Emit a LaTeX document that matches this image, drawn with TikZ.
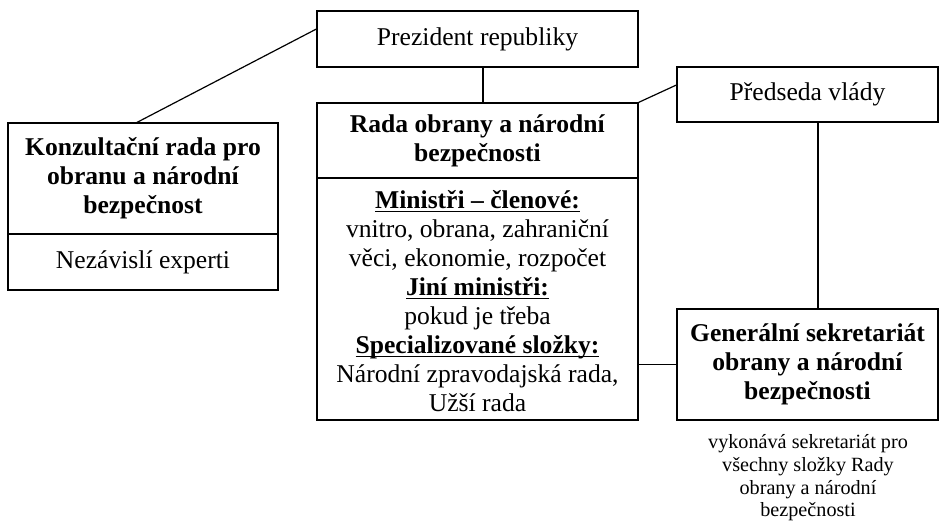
\documentclass[tikz,border=0pt]{standalone}
\usepackage{fontspec}
\setmainfont{Liberation Serif}
\newcommand\thul[1]{\setbox0\hbox{#1}\rlap{\rule[-3.2pt]{\wd0}{1.6pt}}\box0}
\usetikzlibrary{calc}
\begin{document}
\begin{tikzpicture}[x=1pt,y=-1pt,
  box/.style={draw=black,line width=1.2pt,rectangle,inner sep=0pt,align=center,
    font=\fontsize{25.6}{29}\selectfont},
  boxtext/.style={inner sep=0pt,align=center,font=\fontsize{25.6}{29}\selectfont},
  conn/.style={draw=black,line width=1.2pt},
  captext/.style={align=center,inner sep=0pt,font=\fontsize{20.2}{22.7}\selectfont}]
\useasboundingbox[fill=white] (0,0) rectangle (939,520);

\node[box,minimum width=321pt,minimum height=56pt] (pres) at (477.5,39) {Prezident republiky};

\node[box,minimum width=270pt,minimum height=111pt] (kontop) at (143,178.5)
  {\textbf{Konzultační rada pro}\\\textbf{obranu a národní}\\\textbf{bezpečnost}};
\node[box,minimum width=270pt,minimum height=56pt] (konbot) at (143,262) {Nezávislí experti};

\node[box,minimum width=321pt,minimum height=75pt] (radatop) at (477.5,140.5)
  {\textbf{Rada obrany a národní}\\\textbf{bezpečnosti}};
\node[box,minimum width=321pt,minimum height=242pt] (radabot) at (477.5,299) {};
\node[boxtext] (radatext) at ($(radabot.center)+(0,2.5)$)
  {\thul{\textbf{Ministři – členové:}}\\vnitro, obrana, zahraniční\\věci, ekonomie, rozpočet\\
   \thul{\textbf{Jiní ministři:}}\\pokud je třeba\\\thul{\textbf{Specializované složky:}}\\
   Národní zpravodajská rada,\\Užší rada};

\node[box,minimum width=261pt,minimum height=55pt] (pred) at (807.5,94.5) {Předseda vlády};

\node[box,minimum width=261pt,minimum height=111pt] (gen) at (807.5,364.5)
  {\textbf{Generální sekretariát}\\\textbf{obrany a národní}\\\textbf{bezpečnosti}};

\node[captext] (gencap) at (808,478)
  {vykonává sekretariát pro\\všechny složky Rady\\obrany a národní\\bezpečnosti};

\draw[conn] ($(kontop.north)+(-6,0)$) -- ($(pres.west)+(0,-10)$);
\draw[conn] ($(pres.south)+(5.5,0)$) -- ($(radatop.north)+(5.5,0)$);
\draw[conn] (radatop.north east) -- ($(pred.west)+(0,-9.5)$);
\draw[conn] ($(pred.south)+(10.5,0)$) -- ($(gen.north)+(10.5,0)$);
\draw[conn] (gen.west) -- (gen.west -| radabot.east);
\end{tikzpicture}
\end{document}
